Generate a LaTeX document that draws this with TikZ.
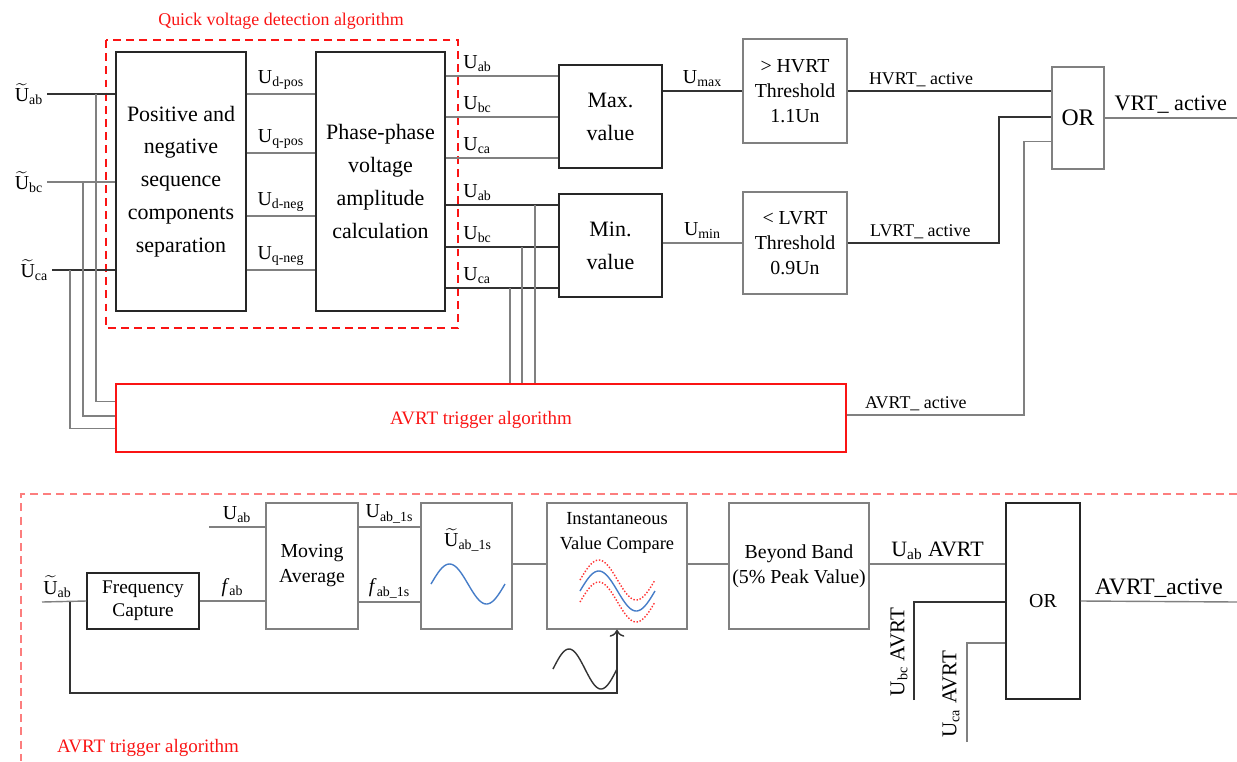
\documentclass[tikz,border=0pt]{standalone}
\usepackage{fontspec}
\setmainfont{Liberation Serif}
\usepackage{amsmath}
\usetikzlibrary{calc, arrows.meta}
\definecolor{alarmred}{RGB}{250,20,20}
\definecolor{sineblue}{RGB}{70,125,200}

\tikzset{
  sz/.style 2 args={minimum width=#1*0.02cm, minimum height=#2*0.02cm},
  blk/.style={draw=black!85, line width=0.8pt, inner sep=0pt, align=center,
    font=\fontsize{12.5}{18.7}\selectfont},
  gblk/.style={blk, draw=black!50, font=\fontsize{11.3}{14.2}\selectfont},
  wire/.style={line width=0.8pt, draw=black!80},
  gwire/.style={line width=0.8pt, draw=black!50},
  lbl/.style={font=\fontsize{11.3}{13}\selectfont, inner sep=2pt},
  slbl/.style={font=\fontsize{10.2}{12}\selectfont, inner sep=2pt},
  redtxt/.style={text=alarmred, font=\fontsize{10.2}{12}\selectfont},
  qbox/.style={draw=alarmred, line width=0.8pt, dash pattern=on 4.5pt off 3pt},
}
\newcommand{\tU}{$\widetilde{\mathrm{U}}$}

\begin{document}
\begin{tikzpicture}[x=0.02cm, y=-0.02cm]
\useasboundingbox (0,0) rectangle (1237,761);

% quick voltage detection
\draw[qbox] (106,40) rectangle (458,328);
\node[redtxt] (qlab) at (281,21) {Quick voltage detection algorithm};

\node[blk, sz={130}{259}] (seq) at (181,181.5) {Positive and\\negative\\sequence\\components\\separation};
\node[blk, sz={129}{259}] (amp) at (380.5,181.5) {Phase-phase\\voltage\\amplitude\\calculation};
\node[blk, sz={103}{103}] (maxv) at (610.5,116.5) {Max.\\value};
\node[blk, sz={103}{103}] (minv) at (610.5,245.5) {Min.\\value};
\node[gblk, sz={104}{104}] (hvrt) at (795,91) {> HVRT\\Threshold\\1.1Un};
\node[gblk, sz={104}{102}] (lvrt) at (795,243) {< LVRT\\Threshold\\0.9Un};
\node[gblk, sz={52}{102}, font=\fontsize{13.5}{15}\selectfont] (orv) at (1078,118) {OR};
\node[draw=alarmred, line width=0.8pt, sz={730}{68}, text=alarmred, text depth=0pt,
  font=\fontsize{10.8}{12}\selectfont] (avrt) at (481,418) {AVRT trigger algorithm};

% inputs
\coordinate (inab) at (47,94);
\coordinate (inbc) at (47,182);
\coordinate (inca) at (52,270);
\node[lbl, left] (lab) at (inab) {\tU\textsubscript{ab}};
\node[lbl, left] (lbc) at (inbc) {\tU\textsubscript{bc}};
\node[lbl, left] (lca) at (inca) {\tU\textsubscript{ca}};
\draw[wire] (inab) -- (inab -| seq.west);
\draw[gwire] (inbc) -- (inbc -| seq.west);
\draw[wire] (inca) -- (inca -| seq.west);

\coordinate (tapab) at (96,94);
\coordinate (tapbc) at (83,182);
\coordinate (tapca) at (70,270);
\draw[gwire] (tapab) |- ($(avrt.north west)!0.265!(avrt.south west)$);
\draw[gwire] (tapbc) |- ($(avrt.north west)!0.47!(avrt.south west)$);
\draw[gwire] (tapca) |- ($(avrt.north west)!0.65!(avrt.south west)$);

% sequence components
\foreach \yy/\ss [count=\i] in {94/d-pos,153/q-pos,216/d-neg,270/q-neg}
  \draw[gwire] (seq.east |- 0,\yy) -- node[lbl, above] (sc\i) {U\textsubscript{\ss}} (amp.west |- 0,\yy);

% phase-phase amplitudes
\foreach \yy/\ss [count=\i] in {76/ab,117/bc,158/ca}
  \draw[gwire] (amp.east |- 0,\yy) -- node[lbl, above right, pos=0.12] (mx\i) {U\textsubscript{\ss}} (maxv.west |- 0,\yy);
\foreach \yy/\ss [count=\i] in {205/ab,247/bc,288/ca}
  \draw[wire] (amp.east |- 0,\yy) -- node[lbl, above right, pos=0.12] (mn\i) {U\textsubscript{\ss}} (minv.west |- 0,\yy);

\coordinate (tmab) at (535,205);
\coordinate (tmbc) at (522,247);
\coordinate (tmca) at (510,288);
\draw[gwire] (tmab) -- (tmab |- avrt.north);
\draw[gwire] (tmbc) -- (tmbc |- avrt.north);
\draw[gwire] (tmca) -- (tmca |- avrt.north);

\draw[wire] (maxv.east |- hvrt.west) -- node[lbl, above] (umax) {U\textsubscript{max}} (hvrt.west);
\draw[gwire] (minv.east |- lvrt.west) -- node[lbl, above] (umin) {U\textsubscript{min}} (lvrt.west);

% ride-through flags
\draw[wire] (hvrt.east) -- node[slbl, above, pos=0.36] (hflag) {HVRT\_ active} (orv.west |- hvrt.east);
\draw[wire] (lvrt.east) -- node[slbl, above, pos=0.48] (lflag) {LVRT\_ active} (999,243) |- ($(orv.north west)!0.49!(orv.south west)$);
\draw[gwire] (avrt.east |- 0,415) -- node[slbl, above, pos=0.39] (aflag) {AVRT\_ active} (1024,415) |- ($(orv.north west)!0.73!(orv.south west)$);
\draw[gwire] (orv.east) -- node[lbl, above, font=\fontsize{12.6}{14}\selectfont] (vrt) {VRT\_ active} (1237,118);

% AVRT trigger algorithm detail
\draw[qbox, draw=alarmred!55] (1237,494) -- (21,494) -- (21,761);
\node[redtxt, font=\fontsize{10.8}{12}\selectfont] (alab) at (148,748) {AVRT trigger algorithm};

\node[blk, font=\fontsize{11}{13}\selectfont, sz={112}{56}] (fcap) at (143,601) {Frequency\\Capture};
\node[gblk, sz={92}{126}] (mavg) at (312,566) {Moving\\Average};
\node[gblk, sz={91}{126}] (sbox) at (466.5,566) {};
\node[gblk, sz={140}{126}] (ivc) at (617,566) {};
\node[gblk, sz={140}{126}] (band) at (799,566) {Beyond Band\\(5\% Peak Value)};
\node[blk, sz={74}{196}, font=\fontsize{11.3}{13}\selectfont] (ort) at (1043,601) {OR};

\node[lbl] (slab) at (468,540) {\tU\textsubscript{ab\_1s}};
\node[gblk, draw=none, font=\fontsize{10.5}{14.2}\selectfont] (ilab) at (617,533) {Instantaneous\\Value Compare};

\draw[sineblue, line width=0.8pt] plot[domain=0:74, samples=60] ({431+\x}, {584-20*sin(\x/74*360)});
\draw[sineblue, line width=0.8pt] plot[domain=0:75, samples=60] ({580+\x}, {591-20*sin(\x/75*360)});
\draw[red!80, densely dotted, line width=0.8pt] plot[domain=0:75, samples=60] ({580+\x}, {580-20*sin(\x/75*360)});
\draw[red!80, densely dotted, line width=0.8pt] plot[domain=0:75, samples=60] ({580+\x}, {602-20*sin(\x/75*360)});
\draw[black!80, line width=0.8pt] plot[domain=0:64, samples=60] ({553+\x}, {669-20*sin(\x/64*360)});

\coordinate (bin) at (42,602);
\coordinate (btap) at (70,602);
\coordinate (uin) at (209,527);
\draw[gwire] (bin) -- node[lbl, above, pos=0.35] (lbin) {\tU\textsubscript{ab}} (fcap.west);
\draw[wire, -{To[length=4pt]}] (btap) |- (ivc.south |- 0,693) -- (ivc.south);
\draw[gwire] (uin) -- node[lbl, above] (luin) {U\textsubscript{ab}} (mavg.west |- uin);
\draw[gwire] (fcap.east) -- node[lbl, above] (lfab) {\textit{f}\textsubscript{ab}} (mavg.west |- fcap.east);
\draw[gwire] (mavg.east |- 0,527) -- node[lbl, above] (lu1s) {U\textsubscript{ab\_1s}} (sbox.west |- 0,527);
\draw[gwire] (mavg.east |- 0,602) -- node[lbl, above] (lf1s) {\textit{f}\textsubscript{ab\_1s}} (sbox.west |- 0,602);
\draw[gwire] (sbox.east |- 0,564) -- (ivc.west |- 0,564);
\draw[gwire] (ivc.east |- 0,564) -- (band.west |- 0,564);
\draw[gwire] (band.east |- 0,564) -- node[lbl, above, font=\fontsize{12.5}{14}\selectfont] (luab) {U\textsubscript{ab} AVRT} (ort.west |- 0,564);

\coordinate (ubcin) at (914,700);
\coordinate (ucain) at (967,742);
\draw[wire] (ubcin) |- (ort.west |- 0,602);
\draw[gwire] (ucain) |- (ort.west |- 0,643);
\node[lbl, rotate=90, font=\fontsize{12}{14}\selectfont] (lubc) at (899,652) {U\textsubscript{bc} AVRT};
\node[lbl, rotate=90, font=\fontsize{12}{14}\selectfont] (luca) at (951,694) {U\textsubscript{ca} AVRT};
\draw[gwire] (ort.east) -- node[lbl, above, font=\fontsize{13.4}{15}\selectfont] (aout) {AVRT\_active} (1237,602);
\end{tikzpicture}
\end{document}
